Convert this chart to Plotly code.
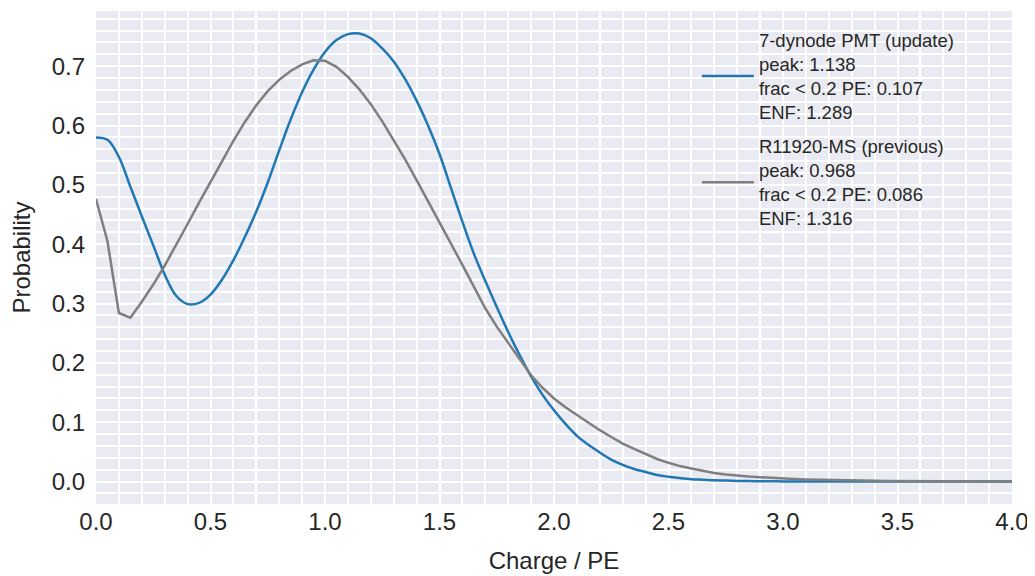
import plotly.graph_objects as go

charge = [round(0.05 * i, 2) for i in range(81)]

pmt_7dynode = [
    0.580, 0.576, 0.547, 0.497, 0.447, 0.398, 0.349, 0.313, 0.299, 0.301,
    0.315, 0.340, 0.373, 0.412, 0.455, 0.504, 0.558, 0.610, 0.656, 0.694,
    0.724, 0.744, 0.754, 0.755, 0.747, 0.730, 0.708, 0.678, 0.642, 0.600,
    0.552, 0.495, 0.438, 0.384, 0.338, 0.294, 0.252, 0.213, 0.177, 0.146,
    0.120, 0.097, 0.077, 0.062, 0.049, 0.037, 0.028, 0.021, 0.016, 0.011,
    0.008, 0.0058, 0.004, 0.003, 0.002, 0.0015, 0.001, 0.0007, 0.0005, 0.0003,
    0.0002, 0.0001, 0.0001, 0.0, 0.0, 0.0, 0.0, 0.0, 0.0, 0.0,
    0.0, 0.0, 0.0, 0.0, 0.0, 0.0, 0.0, 0.0, 0.0, 0.0, 0.0,
]

r11920_ms = [
    0.476, 0.405, 0.284, 0.276, 0.303, 0.332, 0.364, 0.398, 0.434, 0.470,
    0.505, 0.540, 0.574, 0.606, 0.634, 0.658, 0.677, 0.692, 0.703, 0.710,
    0.709, 0.699, 0.682, 0.661, 0.636, 0.607, 0.576, 0.543, 0.508, 0.473,
    0.438, 0.401, 0.365, 0.328, 0.292, 0.261, 0.233, 0.205, 0.179, 0.158,
    0.140, 0.125, 0.112, 0.099, 0.0865, 0.075, 0.064, 0.055, 0.046, 0.038,
    0.0315, 0.026, 0.022, 0.018, 0.0145, 0.012, 0.010, 0.0085, 0.0073, 0.006,
    0.005, 0.0042, 0.0035, 0.0029, 0.0024, 0.002, 0.0016, 0.0013, 0.0011, 0.0009,
    0.0007, 0.0006, 0.0005, 0.0004, 0.0003, 0.0003, 0.0002, 0.0002, 0.0001, 0.0001, 0.0001,
]

name_update = "7-dynode PMT (update)<br>peak: 1.138<br>frac < 0.2 PE: 0.107<br>ENF: 1.289"
name_prev = "R11920-MS (previous)<br>peak: 0.968<br>frac < 0.2 PE: 0.086<br>ENF: 1.316"

x_ticks = [0.0, 0.5, 1.0, 1.5, 2.0, 2.5, 3.0, 3.5, 4.0]
y_ticks = [0.0, 0.1, 0.2, 0.3, 0.4, 0.5, 0.6, 0.7]

fig = go.Figure()
fig.add_trace(go.Scatter(x=charge, y=pmt_7dynode, mode="lines", name=name_update,
                         legendgroup="update",
                         line=dict(color="#1f77b4", width=2.5, shape="spline", smoothing=1.0)))
fig.add_trace(go.Scatter(x=charge, y=r11920_ms, mode="lines", name=name_prev,
                         legendgroup="previous",
                         line=dict(color="#7f7f7f", width=2.5)))

font_family = "Liberation Sans, Arial, sans-serif"
fig.update_layout(
    width=1027, height=568,
    margin=dict(l=88, r=23, t=3, b=72, autoexpand=False),
    paper_bgcolor="white",
    plot_bgcolor="#EAEAF2",
    font=dict(family=font_family, size=24, color="#262626"),
    showlegend=True,
    legend=dict(
        x=0.656, y=0.979, xanchor="left", yanchor="top",
        bgcolor="rgba(0,0,0,0)", borderwidth=0,
        font=dict(size=18.5, color="#262626"),
        itemwidth=52, valign="middle", tracegroupgap=7,
    ),
    xaxis=dict(
        range=[0, 4], tickvals=x_ticks, ticktext=[f"{v:.1f}" for v in x_ticks],
        showgrid=True, gridcolor="white", gridwidth=1.5,
        minor=dict(dtick=0.1, showgrid=True, gridcolor="white", gridwidth=1.5),
        zeroline=False, showline=False, ticks="", automargin=False,
        ticklabelstandoff=1,
        title=dict(text="Charge / PE", font=dict(size=24), standoff=18),
    ),
    yaxis=dict(
        range=[-0.0379, 0.793], tickvals=y_ticks, ticktext=[f"{v:.1f}" for v in y_ticks],
        showgrid=True, gridcolor="white", gridwidth=1.5,
        minor=dict(dtick=0.02, showgrid=True, gridcolor="white", gridwidth=1.5),
        zeroline=False, showline=False, ticks="", automargin=False,
        ticklabelstandoff=10,
        title=dict(text="Probability", font=dict(size=24), standoff=16),
    ),
)

fig.write_html("out.html")
